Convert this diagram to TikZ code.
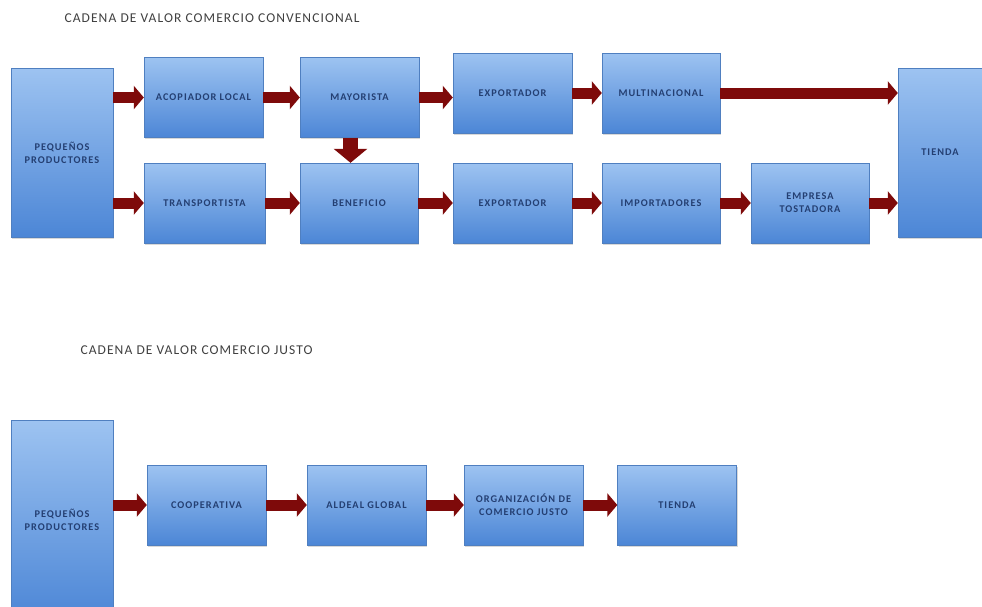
\documentclass[tikz,border=0pt]{standalone}
\usepackage{fontspec}
\setmainfont{Carlito}
\newfontfamily\letrascaja[LetterSpace=10]{Carlito}
\newfontfamily\letrastitulo[LetterSpace=8]{Carlito}
\usetikzlibrary{arrows.meta,shadows}
\definecolor{cajaborde}{HTML}{4F7FC0}
\definecolor{cajaarriba}{HTML}{9DC3F1}
\definecolor{cajaabajo}{HTML}{4C86D6}
\definecolor{textoazul}{HTML}{243F72}
\definecolor{flecha}{HTML}{7E0A0A}
\tikzset{
  caja/.style={draw=cajaborde, top color=cajaarriba, bottom color=cajaabajo,
    drop shadow={shadow xshift=1pt,shadow yshift=-1.5pt,opacity=0.3},
    text=textoazul, align=center, font=\letrascaja\bfseries\fontsize{10.3}{13}\selectfont,
    inner sep=2pt, minimum width=119, minimum height=80},
  flechita/.style={flecha, line width=11pt, -{Triangle[length=10pt,width=23pt]}},
  titulo/.style={font=\letrastitulo\fontsize{13.5}{15}\selectfont, text=black!75, anchor=west}
}

\begin{document}
\begin{tikzpicture}[x=1pt,y=-1pt]
    \useasboundingbox[fill=white] (0,0) rectangle (982,606);
    \node[titulo] (tit1) at (61,18) {CADENA DE VALOR COMERCIO CONVENCIONAL};
    \node[caja, minimum width=102, minimum height=169] (prod1) at (62,152.5) {PEQUEÑOS\\PRODUCTORES};
    \node[caja] (acop) at (203.5,97.5) {ACOPIADOR LOCAL};
    \node[caja] (may) at (359.5,97.5) {MAYORISTA};
    \node[caja] (exp1) at (512.5,93) {EXPORTADOR};
    \node[caja, minimum width=118] (multi) at (661,93) {MULTINACIONAL};
    \node[caja, minimum width=84, minimum height=169] (tienda1) at (940,152.5) {TIENDA};
    \node[caja, minimum width=121] (trans) at (204.5,203) {TRANSPORTISTA};
    \node[caja, minimum width=118] (ben) at (359,203) {BENEFICIO};
    \node[caja] (exp2) at (512.5,203) {EXPORTADOR};
    \node[caja, minimum width=118] (imp) at (661,203) {IMPORTADORES};
    \node[caja, minimum width=118] (emp) at (810,203) {EMPRESA\\TOSTADORA};
    \draw[flechita] (prod1.east |- acop.west) -- (acop.west);
    \draw[flechita] (acop.east) -- (acop.east -| may.west);
    \draw[flechita] (may.east) -- (may.east -| exp1.west);
    \draw[flechita] (exp1.east) -- (multi.west);
    \draw[flechita] (multi.east) -- (multi.east -| tienda1.west);
    \draw[flechita] (prod1.east |- trans.west) -- (trans.west);
    \draw[flechita] (trans.east) -- (ben.west);
    \draw[flechita] (ben.east) -- (exp2.west);
    \draw[flechita] (exp2.east) -- (imp.west);
    \draw[flechita] (imp.east) -- (emp.west);
    \draw[flechita] (emp.east) -- (emp.east -| tienda1.west);
    \draw[flechita, line width=15pt, -{Triangle[length=14pt,width=33pt]}]
        ([xshift=-9]may.south) -- ([xshift=-9]may.south |- ben.north);
    \node[titulo] (tit2) at (77,350) {CADENA DE VALOR COMERCIO JUSTO};
    \node[caja, minimum width=102, minimum height=200] (prod2) at (62,520) {PEQUEÑOS\\PRODUCTORES};
    \node[caja] (coop) at (206.5,505) {COOPERATIVA};
    \node[caja] (aldeal) at (366.5,505) {ALDEAL GLOBAL};
    \node[caja] (org) at (523.5,505) {ORGANIZACIÓN DE\\COMERCIO JUSTO};
    \node[caja] (tienda2) at (677,505) {TIENDA};
    \draw[flechita] (prod2.east |- coop.west) -- (coop.west);
    \draw[flechita] (coop.east) -- (aldeal.west);
    \draw[flechita] (aldeal.east) -- (org.west);
    \draw[flechita] (org.east) -- (tienda2.west);
\end{tikzpicture}
\end{document}
